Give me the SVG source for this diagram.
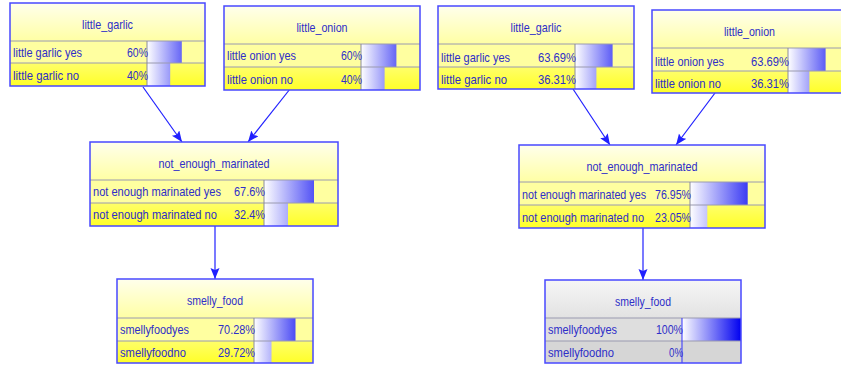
<svg xmlns="http://www.w3.org/2000/svg" width="841" height="366" viewBox="0 0 841 366">
<style>
  .bg { fill:#ffffff; }
  .hdrY { fill:url(#hdrY); }
  .hdrG { fill:url(#hdrG); }
  .r1Y { fill:#ffffa0; }
  .r2Y { fill:url(#r2Y); }
  .r1G { fill:#dedede; }
  .r2G { fill:#d6d6d6; }
  .box { fill:none; stroke:#4848ff; stroke-width:1.5; }
  .sep { stroke:#9a9ab0; stroke-width:1; }
  .div { stroke:#8a8a9a; stroke-width:1; }
  .divB { stroke:#3030ff; stroke-width:1; }
  text { font-family:"Liberation Sans", Arial, sans-serif; font-size:13px; fill:#2e2ec8; }
  .title { text-anchor:middle; }
  .pct { text-anchor:end; }
  .edge { fill:none; stroke:#2020ff; stroke-width:1.2; marker-end:url(#arrow); }
</style>
<defs>
  <linearGradient id="hdrY" x1="0" y1="0" x2="0" y2="1">
    <stop offset="0" stop-color="#ffffec"/>
    <stop offset="1" stop-color="#ffffa4"/>
  </linearGradient>
  <linearGradient id="r2Y" x1="0" y1="0" x2="0" y2="1">
    <stop offset="0" stop-color="#ffff6a"/>
    <stop offset="1" stop-color="#ffff28"/>
  </linearGradient>
  <linearGradient id="hdrG" x1="0" y1="0" x2="0" y2="1">
    <stop offset="0" stop-color="#f6f6f6"/>
    <stop offset="1" stop-color="#e2e2e2"/>
  </linearGradient>
  <linearGradient id="bar" x1="0" y1="0" x2="1" y2="0">
    <stop offset="0" stop-color="#ffffff"/>
    <stop offset="1" stop-color="#0000f0"/>
  </linearGradient>
  <linearGradient id="b1" href="#bar" gradientUnits="userSpaceOnUse" x1="147" y1="0" x2="205" y2="0"/>
  <linearGradient id="b2" href="#bar" gradientUnits="userSpaceOnUse" x1="361" y1="0" x2="420" y2="0"/>
  <linearGradient id="b3" href="#bar" gradientUnits="userSpaceOnUse" x1="575" y1="0" x2="634" y2="0"/>
  <linearGradient id="b4" href="#bar" gradientUnits="userSpaceOnUse" x1="788" y1="0" x2="847" y2="0"/>
  <linearGradient id="b5" href="#bar" gradientUnits="userSpaceOnUse" x1="264" y1="0" x2="338" y2="0"/>
  <linearGradient id="b6" href="#bar" gradientUnits="userSpaceOnUse" x1="690" y1="0" x2="765" y2="0"/>
  <linearGradient id="b7" href="#bar" gradientUnits="userSpaceOnUse" x1="254" y1="0" x2="313" y2="0"/>
  <linearGradient id="b8" href="#bar" gradientUnits="userSpaceOnUse" x1="682" y1="0" x2="741" y2="0"/>
  <marker id="arrow" markerUnits="userSpaceOnUse" markerWidth="12" markerHeight="10" refX="11" refY="4.5" orient="auto">
    <path d="M0,0 L11,4.5 L0,9 L2,4.5 z" fill="#2020ff"/>
  </marker>
</defs>
<rect class="bg" x="0" y="0" width="841" height="366"/>

<g id="connectors">
  <line class="edge" x1="143" y1="87" x2="182" y2="142"/>
  <line class="edge" x1="290" y1="89" x2="248" y2="142"/>
  <line class="edge" x1="215" y1="226" x2="215" y2="279"/>
  <line class="edge" x1="573" y1="89" x2="610" y2="145"/>
  <line class="edge" x1="715" y1="93" x2="676" y2="145"/>
  <line class="edge" x1="643" y1="228" x2="643" y2="280"/>
</g>

<g id="little_garlic_1">
  <rect class="hdrY" x="10" y="3" width="195" height="38"/>
  <rect class="r1Y" x="10" y="41" width="195" height="22"/>
  <rect class="r2Y" x="10" y="63" width="195" height="23"/>
  <rect x="147" y="41" width="34.8" height="22" fill="url(#b1)"/>
  <rect x="147" y="63" width="23.2" height="23" fill="url(#b1)"/>
  <line class="sep" x1="10" y1="41" x2="205" y2="41"/>
  <line class="sep" x1="10" y1="63" x2="205" y2="63"/>
  <line class="div" x1="147" y1="41" x2="147" y2="86"/>
  <rect class="box" x="10" y="3" width="195" height="83"/>
  <text class="title" x="107.5" y="29" textLength="51" lengthAdjust="spacingAndGlyphs">little_garlic</text>
  <text x="13" y="57" textLength="69" lengthAdjust="spacingAndGlyphs">little garlic yes</text>
  <text class="pct" x="148" y="57" textLength="21" lengthAdjust="spacingAndGlyphs">60%</text>
  <text x="13" y="80" textLength="66" lengthAdjust="spacingAndGlyphs">little garlic no</text>
  <text class="pct" x="148" y="80" textLength="21" lengthAdjust="spacingAndGlyphs">40%</text>
</g>

<g id="little_onion_1">
  <rect class="hdrY" x="224" y="6" width="196" height="38"/>
  <rect class="r1Y" x="224" y="44" width="196" height="23"/>
  <rect class="r2Y" x="224" y="67" width="196" height="23"/>
  <rect x="361" y="44" width="35.4" height="23" fill="url(#b2)"/>
  <rect x="361" y="67" width="23.6" height="23" fill="url(#b2)"/>
  <line class="sep" x1="224" y1="44" x2="420" y2="44"/>
  <line class="sep" x1="224" y1="67" x2="420" y2="67"/>
  <line class="div" x1="361" y1="44" x2="361" y2="90"/>
  <rect class="box" x="224" y="6" width="196" height="84"/>
  <text class="title" x="322" y="32" textLength="51" lengthAdjust="spacingAndGlyphs">little_onion</text>
  <text x="227" y="60" textLength="69" lengthAdjust="spacingAndGlyphs">little onion yes</text>
  <text class="pct" x="362" y="60" textLength="21" lengthAdjust="spacingAndGlyphs">60%</text>
  <text x="227" y="84" textLength="66" lengthAdjust="spacingAndGlyphs">little onion no</text>
  <text class="pct" x="362" y="84" textLength="21" lengthAdjust="spacingAndGlyphs">40%</text>
</g>

<g id="little_garlic_2">
  <rect class="hdrY" x="438" y="6" width="196" height="38"/>
  <rect class="r1Y" x="438" y="44" width="196" height="23"/>
  <rect class="r2Y" x="438" y="67" width="196" height="22"/>
  <rect x="575" y="44" width="37.6" height="23" fill="url(#b3)"/>
  <rect x="575" y="67" width="21.4" height="22" fill="url(#b3)"/>
  <line class="sep" x1="438" y1="44" x2="634" y2="44"/>
  <line class="sep" x1="438" y1="67" x2="634" y2="67"/>
  <line class="div" x1="575" y1="44" x2="575" y2="89"/>
  <rect class="box" x="438" y="6" width="196" height="83"/>
  <text class="title" x="536" y="32" textLength="51" lengthAdjust="spacingAndGlyphs">little_garlic</text>
  <text x="441" y="62" textLength="69" lengthAdjust="spacingAndGlyphs">little garlic yes</text>
  <text class="pct" x="576" y="62" textLength="38" lengthAdjust="spacingAndGlyphs">63.69%</text>
  <text x="441" y="84" textLength="66" lengthAdjust="spacingAndGlyphs">little garlic no</text>
  <text class="pct" x="576" y="84" textLength="38" lengthAdjust="spacingAndGlyphs">36.31%</text>
</g>

<g id="little_onion_2">
  <rect class="hdrY" x="652" y="10" width="195" height="38"/>
  <rect class="r1Y" x="652" y="48" width="195" height="23"/>
  <rect class="r2Y" x="652" y="71" width="195" height="22"/>
  <rect x="788" y="48" width="37.6" height="23" fill="url(#b4)"/>
  <rect x="788" y="71" width="21.4" height="22" fill="url(#b4)"/>
  <line class="sep" x1="652" y1="48" x2="847" y2="48"/>
  <line class="sep" x1="652" y1="71" x2="847" y2="71"/>
  <line class="div" x1="788" y1="48" x2="788" y2="93"/>
  <rect class="box" x="652" y="10" width="195" height="83"/>
  <text class="title" x="749.5" y="36" textLength="51" lengthAdjust="spacingAndGlyphs">little_onion</text>
  <text x="655" y="66" textLength="69" lengthAdjust="spacingAndGlyphs">little onion yes</text>
  <text class="pct" x="789" y="66" textLength="38" lengthAdjust="spacingAndGlyphs">63.69%</text>
  <text x="655" y="88" textLength="66" lengthAdjust="spacingAndGlyphs">little onion no</text>
  <text class="pct" x="789" y="88" textLength="38" lengthAdjust="spacingAndGlyphs">36.31%</text>
</g>

<g id="not_enough_marinated_1">
  <rect class="hdrY" x="90" y="142" width="248" height="38"/>
  <rect class="r1Y" x="90" y="180" width="248" height="23"/>
  <rect class="r2Y" x="90" y="203" width="248" height="23"/>
  <rect x="264" y="180" width="50" height="23" fill="url(#b5)"/>
  <rect x="264" y="203" width="24" height="23" fill="url(#b5)"/>
  <line class="sep" x1="90" y1="180" x2="338" y2="180"/>
  <line class="sep" x1="90" y1="203" x2="338" y2="203"/>
  <line class="div" x1="264" y1="180" x2="264" y2="226"/>
  <rect class="box" x="90" y="142" width="248" height="84"/>
  <text class="title" x="214" y="168" textLength="111" lengthAdjust="spacingAndGlyphs">not_enough_marinated</text>
  <text x="93" y="196" textLength="128" lengthAdjust="spacingAndGlyphs">not enough marinated yes</text>
  <text class="pct" x="265" y="196" textLength="31" lengthAdjust="spacingAndGlyphs">67.6%</text>
  <text x="93" y="219" textLength="124" lengthAdjust="spacingAndGlyphs">not enough marinated no</text>
  <text class="pct" x="265" y="219" textLength="31" lengthAdjust="spacingAndGlyphs">32.4%</text>
</g>

<g id="not_enough_marinated_2">
  <rect class="hdrY" x="519" y="145" width="246" height="37"/>
  <rect class="r1Y" x="519" y="182" width="246" height="23"/>
  <rect class="r2Y" x="519" y="205" width="246" height="23"/>
  <rect x="690" y="182" width="57.7" height="23" fill="url(#b6)"/>
  <rect x="690" y="205" width="17.3" height="23" fill="url(#b6)"/>
  <line class="sep" x1="519" y1="182" x2="765" y2="182"/>
  <line class="sep" x1="519" y1="205" x2="765" y2="205"/>
  <line class="div" x1="690" y1="182" x2="690" y2="228"/>
  <rect class="box" x="519" y="145" width="246" height="83"/>
  <text class="title" x="642" y="171" textLength="111" lengthAdjust="spacingAndGlyphs">not_enough_marinated</text>
  <text x="522" y="199" textLength="124" lengthAdjust="spacingAndGlyphs">not enough marinated yes</text>
  <text class="pct" x="691" y="199" textLength="36" lengthAdjust="spacingAndGlyphs">76.95%</text>
  <text x="522" y="222" textLength="122" lengthAdjust="spacingAndGlyphs">not enough marinated no</text>
  <text class="pct" x="691" y="222" textLength="36" lengthAdjust="spacingAndGlyphs">23.05%</text>
</g>

<g id="smelly_food_1">
  <rect class="hdrY" x="117" y="279" width="196" height="39"/>
  <rect class="r1Y" x="117" y="318" width="196" height="23"/>
  <rect class="r2Y" x="117" y="341" width="196" height="22"/>
  <rect x="254" y="318" width="41.5" height="23" fill="url(#b7)"/>
  <rect x="254" y="341" width="17.5" height="22" fill="url(#b7)"/>
  <line class="sep" x1="117" y1="318" x2="313" y2="318"/>
  <line class="sep" x1="117" y1="341" x2="313" y2="341"/>
  <line class="div" x1="254" y1="318" x2="254" y2="363"/>
  <rect class="box" x="117" y="279" width="196" height="84"/>
  <text class="title" x="215" y="305" textLength="56" lengthAdjust="spacingAndGlyphs">smelly_food</text>
  <text x="120" y="334" textLength="69" lengthAdjust="spacingAndGlyphs">smellyfoodyes</text>
  <text class="pct" x="255" y="334" textLength="37" lengthAdjust="spacingAndGlyphs">70.28%</text>
  <text x="120" y="357" textLength="66" lengthAdjust="spacingAndGlyphs">smellyfoodno</text>
  <text class="pct" x="255" y="357" textLength="37" lengthAdjust="spacingAndGlyphs">29.72%</text>
</g>

<g id="smelly_food_2">
  <rect class="hdrG" x="545" y="280" width="196" height="38"/>
  <rect class="r1G" x="545" y="318" width="196" height="23"/>
  <rect class="r2G" x="545" y="341" width="196" height="22"/>
  <rect x="682" y="318" width="59" height="23" fill="url(#b8)"/>
  <line class="sep" x1="545" y1="318" x2="741" y2="318"/>
  <line class="sep" x1="545" y1="341" x2="741" y2="341"/>
  <line class="divB" x1="682" y1="318" x2="682" y2="363"/>
  <rect class="box" x="545" y="280" width="196" height="83"/>
  <text class="title" x="643" y="306" textLength="56" lengthAdjust="spacingAndGlyphs">smelly_food</text>
  <text x="548" y="334" textLength="69" lengthAdjust="spacingAndGlyphs">smellyfoodyes</text>
  <text class="pct" x="683" y="334" textLength="27" lengthAdjust="spacingAndGlyphs">100%</text>
  <text x="548" y="357" textLength="66" lengthAdjust="spacingAndGlyphs">smellyfoodno</text>
  <text class="pct" x="683" y="357" textLength="14" lengthAdjust="spacingAndGlyphs">0%</text>
</g>
</svg>
